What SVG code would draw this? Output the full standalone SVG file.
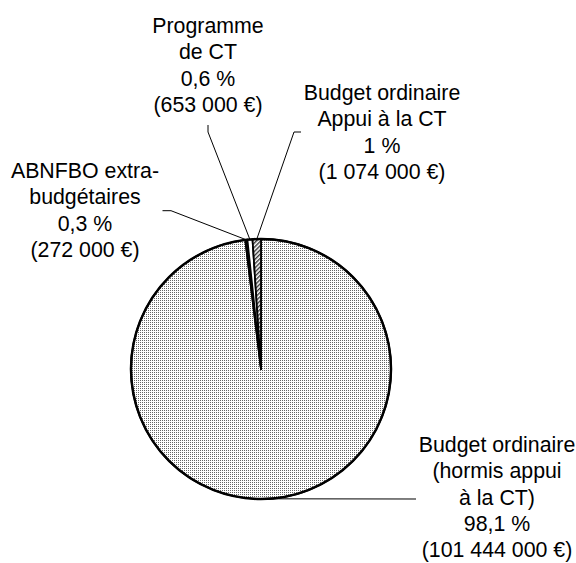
<svg xmlns="http://www.w3.org/2000/svg" width="576" height="563" viewBox="0 0 576 563">
  <style>
    .lbl { font-family: "Liberation Sans", Arial, sans-serif; font-size: 21.33px; fill: #000; text-anchor: middle; }
    .slice { stroke: #000; stroke-width: 1.8; stroke-linejoin: round; }
    .leader { fill: none; stroke: #000; stroke-width: 1; }
    .rim { fill: none; stroke: #000; stroke-width: 2.5; }
  </style>
  <defs>
    <pattern id="dots" patternUnits="userSpaceOnUse" width="2" height="2">
      <rect width="2" height="2" fill="#fff"/>
      <rect width="1" height="1" fill="#666"/>
    </pattern>
    <pattern id="hatch" patternUnits="userSpaceOnUse" width="3" height="3" patternTransform="rotate(45)">
      <rect width="3" height="3" fill="#fff"/>
      <rect width="1.4" height="3" fill="#333"/>
    </pattern>
  </defs>
  <rect width="576" height="563" fill="#fff"/>

  <g id="slice-budget-ordinaire">
    <path class="slice" fill="url(#dots)" d="M261,369 L261,239 A130,130 0 1,1 245.25,239.96 Z"/>
    <text class="lbl" x="497" y="452"><tspan x="497" y="452">Budget ordinaire</tspan><tspan x="497" y="478.3">(hormis appui</tspan><tspan x="497" y="504.6">à la CT)</tspan><tspan x="497" y="530.9">98,1 %</tspan><tspan x="497" y="557.2">(101 444 000 €)</tspan></text>
  </g>

  <g id="slice-abnfbo">
    <path class="slice" fill="#000" d="M261,369 L245.25,239.96 A130,130 0 0,1 247.39,239.71 Z"/>
    <text class="lbl" x="85" y="178"><tspan x="85" y="178">ABNFBO extra-</tspan><tspan x="85" y="204.3">budgétaires</tspan><tspan x="85" y="230.6">0,3 %</tspan><tspan x="85" y="256.9">(272 000 €)</tspan></text>
  </g>

  <g id="slice-programme-ct">
    <path class="slice" fill="#fff" d="M261,369 L247.39,239.71 A130,130 0 0,1 252.52,239.28 Z"/>
    <text class="lbl" x="208" y="33"><tspan x="208" y="33">Programme</tspan><tspan x="208" y="59.3">de CT</tspan><tspan x="208" y="85.6">0,6 %</tspan><tspan x="208" y="111.9">(653 000 €)</tspan></text>
  </g>

  <g id="slice-budget-appui">
    <path class="slice" fill="url(#hatch)" d="M261,369 L252.52,239.28 A130,130 0 0,1 261,239 Z"/>
    <text class="lbl" x="382" y="100"><tspan x="382" y="100">Budget ordinaire</tspan><tspan x="382" y="126.3">Appui à la CT</tspan><tspan x="382" y="152.6">1 %</tspan><tspan x="382" y="178.9">(1 074 000 €)</tspan></text>
  </g>

  <circle class="rim" cx="261" cy="369" r="130"/>

  <g id="connectors">
    <polyline class="leader" points="162.5,210.7 171,210.7 246.3,239.8"/>
    <polyline class="leader" points="208,125 208,132 249.9,239.5"/>
    <polyline class="leader" points="301,132 294,132 256.8,239.1"/>
    <polyline class="leader" points="268.9,498.8 416,499"/>
  </g>
</svg>
